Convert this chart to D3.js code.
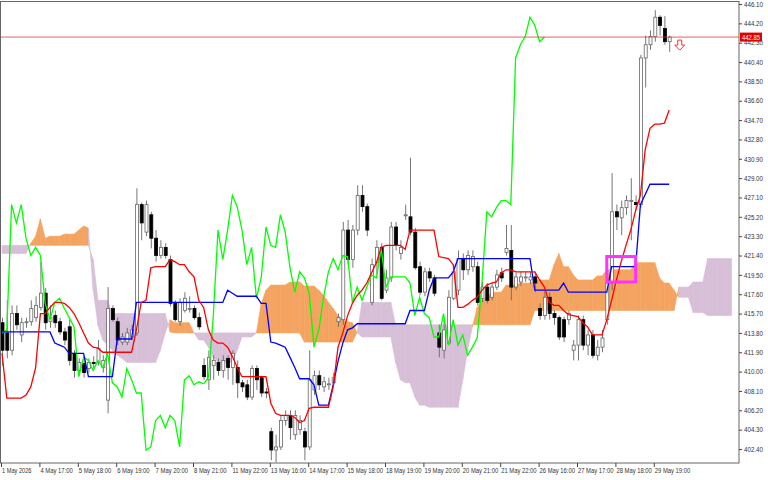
<!DOCTYPE html>
<html><head><meta charset="utf-8">
<script src="https://cdn.jsdelivr.net/npm/d3@7"></script>
<style>body{margin:0;background:#fff}svg{display:block}text{font-family:"Liberation Sans",sans-serif}</style>
</head><body><svg id="c" width="768" height="480"></svg>
<script>
'use strict';
var open = [414.8,413.8,412.1,415.7,413.6,414.8,414.9,415.3,416.3,417.7,
 414.9,415.5,414.9,413.9,414.4,411.8,410.1,410.8,410.3,410.9,
 410.9,410.4,407.2,416.2,414.9,412.9,412.9,413.4,413.8,426.4,
 423.7,425.4,423.1,421.4,422.2,421.0,416.7,414.9,416.0,416.1,
 416.2,415.3,410.6,409.2,410.6,410.9,410.1,411.3,410.4,410.4,
 408.9,408.7,407.5,410.3,409.4,408.0,404.1,402.3,402.6,405.2,
 405.7,403.8,404.3,404.1,402.6,408.2,409.6,408.5,408.7,408.9,
 414.9,415.1,423.9,421.0,423.9,427.3,426.2,416.8,420.7,422.2,
 418.0,419.2,424.2,421.6,425.3,425.2,423.7,420.3,417.8,419.8,
 419.2,413.8,412.1,412.8,417.2,418.0,421.1,420.0,420.3,420.3,
 417.2,418.3,417.3,418.3,419.7,421.7,421.9,418.3,418.8,419.2,
 419.0,419.3,416.2,415.5,417.3,415.7,415.3,415.1,415.1,412.1,
 412.6,415.1,412.6,413.6,411.6,412.4,415.1,418.7,425.7,425.1,
 426.1,426.7,426.6,426.4,440.8,442.1,442.9,444.8,443.7,442.4];
var close = [412.1,412.1,415.7,414.6,414.8,414.9,416.2,416.5,417.7,414.8,
 415.3,414.8,413.9,413.1,411.1,410.1,410.9,409.9,410.9,410.8,
 412.3,411.1,416.2,415.1,413.1,413.4,413.8,414.1,426.4,424.6,
 426.4,423.1,421.4,422.2,421.4,416.7,415.1,416.8,417.2,416.2,
 415.3,414.4,409.5,411.4,411.1,410.1,411.1,410.4,411.8,408.9,
 408.5,407.5,410.3,409.2,407.9,407.9,402.3,402.6,405.2,405.7,
 404.5,405.7,405.2,402.6,409.2,409.6,408.7,409.0,408.8,409.4,
 415.3,423.9,421.0,423.9,427.3,426.2,423.9,420.5,422.2,417.2,
 419.2,424.2,422.4,422.2,425.4,423.7,420.2,417.8,419.8,419.2,
 417.7,412.4,414.1,417.3,419.8,421.1,420.0,421.4,421.3,416.8,
 418.3,417.0,418.3,419.5,419.2,422.1,418.3,419.3,419.3,419.3,
 419.3,418.7,415.5,417.3,415.7,415.3,413.4,413.4,415.7,412.6,
 415.1,412.6,413.6,411.6,412.4,413.3,418.7,425.7,425.2,426.1,
 426.8,426.8,426.4,440.8,442.1,442.9,444.8,444.0,442.4,442.85];
var high = [415.3,417.0,416.5,416.5,415.3,415.3,417.0,417.4,420.8,418.2,
 416.5,416.0,415.3,414.3,415.1,412.1,411.3,411.3,411.3,411.5,
 413.1,411.6,418.3,416.5,415.3,413.8,414.3,414.6,428.0,426.6,
 426.8,425.7,423.9,422.9,422.6,421.4,417.0,417.2,417.8,417.4,
 416.5,415.8,411.3,412.1,411.6,411.3,411.6,411.6,412.1,411.1,
 409.2,409.2,410.6,410.6,409.6,408.4,404.5,403.8,405.7,406.2,
 406.2,406.2,405.7,404.5,412.1,410.1,410.1,409.5,409.4,409.9,
 415.7,424.7,424.9,424.4,428.3,428.3,426.5,421.1,422.9,422.6,
 420.0,424.7,424.7,422.9,426.4,431.0,424.1,420.8,420.2,420.2,
 419.5,414.6,415.1,418.0,420.5,421.9,421.6,421.9,421.9,420.8,
 418.8,418.7,418.7,420.0,420.2,424.4,424.4,419.7,419.8,419.8,
 419.8,419.8,416.7,418.0,417.8,416.0,415.5,415.4,416.0,413.1,
 415.5,415.5,414.1,414.1,413.1,414.1,420.0,429.5,426.4,426.8,
 427.3,429.0,427.3,441.1,443.0,443.5,445.5,445.0,444.9,443.0];
var low = [410.6,411.3,411.6,414.1,412.9,414.3,414.5,414.9,416.0,414.1,
 414.3,414.3,413.6,412.6,410.6,409.4,409.6,409.4,409.9,410.3,
 410.6,409.9,405.9,414.9,412.6,412.6,412.6,413.1,413.5,422.9,
 423.3,422.1,420.8,421.1,421.1,416.4,414.9,414.5,415.8,415.8,
 415.1,414.1,409.2,408.2,409.2,409.6,409.4,409.2,408.7,407.4,
 408.0,407.2,407.2,408.2,407.5,407.4,401.3,401.1,402.3,404.7,
 403.3,403.3,403.8,401.3,402.3,407.7,408.2,408.0,408.2,408.6,
 414.4,414.6,420.5,420.2,423.4,425.7,423.3,416.5,419.5,417.0,
 417.7,418.8,421.9,421.0,424.9,423.4,420.0,417.5,417.4,418.8,
 417.4,411.4,411.3,412.6,417.0,417.5,419.0,419.5,419.8,416.5,
 416.8,416.7,417.0,418.0,418.8,421.4,417.0,418.0,418.4,418.8,
 418.6,417.8,415.1,415.1,415.1,414.6,413.1,412.9,414.6,411.1,
 411.1,412.1,411.6,411.3,411.1,411.9,414.6,418.0,423.9,423.4,
 425.4,422.9,425.9,426.1,437.9,441.6,442.4,443.0,442.1,441.4];

// Tenkan-sen (red) and Kijun-sen (blue), one value per bar
var tenkan = [411.8,407.4,407.4,407.4,407.4,407.7,408.5,410.4,415.7,415.7,
 416.3,416.8,416.8,416.7,416.3,415.7,414.8,413.8,412.8,412.4,
 412.3,411.9,411.9,411.9,411.9,411.9,411.9,411.9,414.1,416.8,
 417.0,420.2,420.3,420.3,420.3,421.0,420.8,420.5,420.5,419.8,
 419.3,417.0,416.3,414.1,413.1,412.8,412.8,412.4,411.5,410.4,
 409.5,409.5,409.5,409.5,409.5,409.5,406.9,405.9,405.7,405.7,
 405.7,405.5,405.0,405.2,406.4,406.5,406.5,406.5,406.5,408.5,
 412.4,413.8,415.5,416.7,417.5,418.0,418.7,419.7,420.7,422.2,
 422.4,422.4,422.4,422.4,422.0,423.9,423.9,423.9,423.9,423.9,
 423.9,421.3,421.2,421.1,420.5,416.3,416.3,416.6,417.0,417.3,
 418.0,418.5,418.7,418.8,419.7,420.0,420.0,419.8,419.8,419.8,
 419.8,419.8,419.0,418.3,416.8,416.5,416.5,416.0,415.6,415.5,
 415.4,414.8,414.4,413.6,413.6,413.6,415.1,417.0,419.0,420.8,
 422.4,423.9,425.8,427.3,431.8,433.9,434.3,434.3,434.4,435.7];
var kijun = [413.9,413.9,413.9,413.9,413.9,413.9,413.9,413.9,413.9,413.9,
 413.9,412.8,412.6,412.4,411.8,411.8,411.8,411.8,409.5,409.5,
 409.5,409.5,409.5,409.5,413.2,413.2,413.2,413.2,416.8,416.8,
 416.8,416.8,416.8,416.8,416.8,416.8,416.8,416.8,416.8,416.8,
 416.8,416.8,416.8,416.8,416.8,416.8,416.8,418.0,417.7,417.4,
 417.4,417.4,417.4,417.4,416.7,416.7,412.9,412.8,412.6,412.4,
 411.4,410.4,409.3,409.3,409.3,408.7,406.7,406.7,406.7,408.7,
 411.0,412.8,414.1,414.3,414.7,414.7,414.7,414.7,414.7,414.7,
 414.7,414.7,414.7,414.7,414.7,416.0,416.0,416.0,416.0,418.0,
 419.2,419.2,419.2,419.2,419.8,421.1,421.1,421.1,421.1,421.1,
 421.1,421.1,421.1,421.1,421.1,421.1,421.1,421.1,421.1,421.1,
 421.1,418.0,418.0,418.0,418.0,418.0,418.0,418.7,417.8,417.8,
 417.8,417.8,417.8,417.8,417.8,417.8,417.8,420.3,420.3,420.3,
 420.3,420.3,420.3,426.4,427.4,428.4,428.4,428.4,428.4,428.4];

// Senkou span A / B as drawn (already shifted), bars 0..152
var spanA = [421.6,421.6,421.6,421.6,421.6,421.6,422.6,423.3,425.0,423.1,
 423.3,423.3,423.3,423.5,423.5,423.5,423.9,424.3,424.1,418.0,
 414.5,413.1,412.6,412.1,411.6,411.3,410.9,410.9,410.9,410.9,
 410.9,410.9,410.9,412.1,413.8,415.1,414.8,414.8,414.8,414.8,
 413.8,413.1,413.1,412.4,411.4,410.9,410.9,410.9,410.9,412.1,
 413.4,413.4,413.4,413.8,416.7,418.0,418.5,418.5,418.5,418.5,
 418.8,418.8,418.8,418.4,418.4,418.4,418.0,417.5,416.8,416.2,
 415.5,415.1,414.9,414.8,413.8,413.4,413.4,413.4,413.4,413.4,
 413.4,413.4,410.9,409.2,408.9,408.9,407.5,406.7,406.7,406.5,
 406.5,406.5,406.5,406.5,406.5,406.5,409.2,412.1,414.4,416.3,
 417.0,417.3,417.8,417.8,417.8,418.5,418.5,418.5,418.7,418.7,
 418.7,419.0,419.0,419.0,419.0,420.5,421.6,420.3,420.3,419.5,
 419.0,419.0,419.0,419.0,419.4,419.4,420.0,420.0,420.0,420.0,
 420.0,420.0,420.7,420.7,420.7,420.7,420.7,419.2,418.7,418.7,
 418.0,417.3,417.3,417.3,415.8,415.8,415.8,415.5,415.5,415.5,
 415.5,415.5,415.5];
var spanB = [422.4,422.4,422.4,422.4,422.4,422.4,422.4,422.4,422.4,422.4,
 422.4,422.4,422.4,422.4,422.4,422.4,422.4,422.4,422.4,421.0,
 417.0,417.0,417.0,415.7,415.7,415.7,415.7,415.7,415.7,415.7,
 415.7,415.7,415.7,415.7,415.7,413.9,413.8,413.8,413.8,413.8,
 413.8,413.8,413.8,413.8,413.8,413.8,413.8,413.8,413.8,413.8,
 413.8,413.8,413.8,413.8,413.8,413.8,413.8,413.8,413.8,413.8,
 413.8,413.8,413.8,412.9,412.9,412.9,412.9,412.9,412.9,412.9,
 412.9,412.9,412.9,412.9,413.9,416.8,416.8,416.8,416.8,416.8,
 416.8,416.8,414.6,414.6,414.6,414.6,414.6,414.6,414.6,414.6,
 414.6,414.6,414.6,414.6,414.6,414.6,414.6,414.6,414.6,414.6,
 414.6,414.6,414.6,414.6,414.6,414.6,414.6,414.6,414.6,414.6,
 414.6,416.0,416.0,416.0,416.0,416.0,416.0,416.0,416.0,416.0,
 416.0,416.0,416.0,416.0,416.0,416.0,416.0,416.0,416.0,416.0,
 416.0,416.0,416.0,416.0,416.0,416.0,416.0,416.0,416.0,416.0,
 416.0,418.3,418.3,418.3,418.8,418.8,418.8,421.1,421.1,421.1,
 421.1,421.1,421.1];

var timeLabels = ["1 May 2026","4 May 17:00","5 May 18:00","6 May 19:00","7 May 20:00","8 May 21:00",
 "11 May 22:00","13 May 16:00","14 May 17:00","15 May 18:00","18 May 19:00","19 May 20:00",
 "20 May 21:00","21 May 22:00","26 May 16:00","27 May 17:00","28 May 18:00","29 May 19:00"];
var priceTicks = [402.40,404.30,406.20,408.10,410.00,411.90,413.80,415.70,417.60,419.50,421.40,423.30,
 425.20,427.10,429.00,430.90,432.80,434.70,436.60,438.50,440.40,442.30,444.20,446.10];
var lastPrice = 442.85;
var chikouShift = 26;
var labelEvery = 8;

var W = 739, H = 463;
var svg = d3.select("#c");
var x = d3.scaleLinear().domain([0, 150]).range([2, 722]);
var y = d3.scaleLinear().domain([402.4, 446.1]).range([449, 4]);

svg.append("clipPath").attr("id", "clip").append("rect").attr("x", 0).attr("y", 0).attr("width", W).attr("height", H);
var g = svg.append("g").attr("clip-path", "url(#clip)");

// cloud, one segment per bar pair
var seg = d3.area().x(function (d) { return x(d.i); }).y0(function (d) { return y(d.b); }).y1(function (d) { return y(d.a); });
for (var i = 0; i < spanA.length - 1; i++) {
    var up = spanA[i] + spanA[i + 1] >= spanB[i] + spanB[i + 1];
    g.append("path")
        .attr("d", seg([{i: i, a: spanA[i], b: spanB[i]}, {i: i + 1, a: spanA[i + 1], b: spanB[i + 1]}]))
        .attr("fill", up ? "#f4a460" : "#d8bfd8").attr("stroke", up ? "#f4a460" : "#d8bfd8").attr("stroke-width", 0.6);
}

// candles
var bars = d3.range(close.length);
g.selectAll(".wick").data(bars).enter().append("line")
    .attr("x1", function (d) { return x(d) + 0.5; }).attr("x2", function (d) { return x(d) + 0.5; })
    .attr("y1", function (d) { return y(high[d]); }).attr("y2", function (d) { return y(low[d]); })
    .attr("stroke", "#666").attr("stroke-width", 0.9);
g.selectAll(".body").data(bars).enter().append("rect")
    .attr("x", function (d) { return x(d) - 1; })
    .attr("width", 3)
    .attr("y", function (d) { return y(Math.max(open[d], close[d])); })
    .attr("height", function (d) { return Math.max(1, Math.abs(y(open[d]) - y(close[d]))); })
    .attr("fill", function (d) { return close[d] >= open[d] ? "#fff" : "#000"; })
    .attr("stroke", function (d) { return close[d] >= open[d] ? "#666" : "#000"; })
    .attr("stroke-width", 0.8);

// lines
var line = d3.line().x(function (d) { return x(d[0]); }).y(function (d) { return y(d[1]); });
var chikou = close.slice(chikouShift).map(function (v, k) { return [k, v]; });
g.append("path").attr("d", line(chikou)).attr("fill", "none").attr("stroke", "#00ff00").attr("stroke-width", 1.3);
g.append("path").attr("d", line(kijun.map(function (v, k) { return [k, v]; }))).attr("fill", "none").attr("stroke", "#0000ff").attr("stroke-width", 1.3);
g.append("path").attr("d", line(tenkan.map(function (v, k) { return [k, v]; }))).attr("fill", "none").attr("stroke", "#ff0000").attr("stroke-width", 1.3);

// signal box and arrow
g.append("rect").attr("x", x(126)).attr("y", y(421.3)).attr("width", x(132) - x(126)).attr("height", y(418.8) - y(421.3))
    .attr("fill", "none").attr("stroke", "#ff33ff").attr("stroke-width", 3);
var ax = x(141.2), ay = y(lastPrice) + 3;
g.append("path").attr("d", "M" + (ax - 2) + "," + ay + "v5h-3l5,5l5,-5h-3v-5z")
    .attr("fill", "#fff").attr("stroke", "#ff3030").attr("stroke-width", 1);

// last price line
svg.append("line").attr("x1", 0).attr("x2", W).attr("y1", y(lastPrice)).attr("y2", y(lastPrice))
    .attr("stroke", "#e23a3a").attr("stroke-width", 0.8);

// frame
svg.append("rect").attr("x", 0.5).attr("y", 1.5).attr("width", W - 0.5).attr("height", H - 1.5)
    .attr("fill", "none").attr("stroke", "#666");

// right axis
var yAxis = d3.axisRight(y).tickValues(priceTicks).tickFormat(d3.format(".2f")).tickSize(3).tickPadding(2);
var ya = svg.append("g").attr("transform", "translate(" + W + ",0)").call(yAxis);
ya.select(".domain").remove();
ya.selectAll("line").attr("stroke", "#444");
ya.selectAll("text").attr("font-size", 7).attr("fill", "#333").attr("font-family", "Liberation Sans")
    .attr("textLength", 19).attr("lengthAdjust", "spacingAndGlyphs");

svg.append("rect").attr("x", W + 1).attr("y", y(lastPrice) - 4.5).attr("width", 22).attr("height", 9).attr("fill", "#e00000");
svg.append("text").attr("x", W + 3).attr("y", y(lastPrice) + 2.5).attr("font-size", 7).attr("fill", "#fff")
    .attr("textLength", 18).attr("lengthAdjust", "spacingAndGlyphs").text(lastPrice.toFixed(2));

// bottom axis
var xa = svg.append("g");
timeLabels.forEach(function (t, k) {
    var px = x(k * labelEvery) - 1;
    xa.append("line").attr("x1", px + 0.5).attr("x2", px + 0.5).attr("y1", H).attr("y2", H + 4).attr("stroke", "#444");
    xa.append("text").attr("x", px + 1).attr("y", H + 10).attr("font-size", 7).attr("fill", "#333")
        .attr("textLength", t.length * 2.95).attr("lengthAdjust", "spacingAndGlyphs").text(t);
});
</script></body></html>
